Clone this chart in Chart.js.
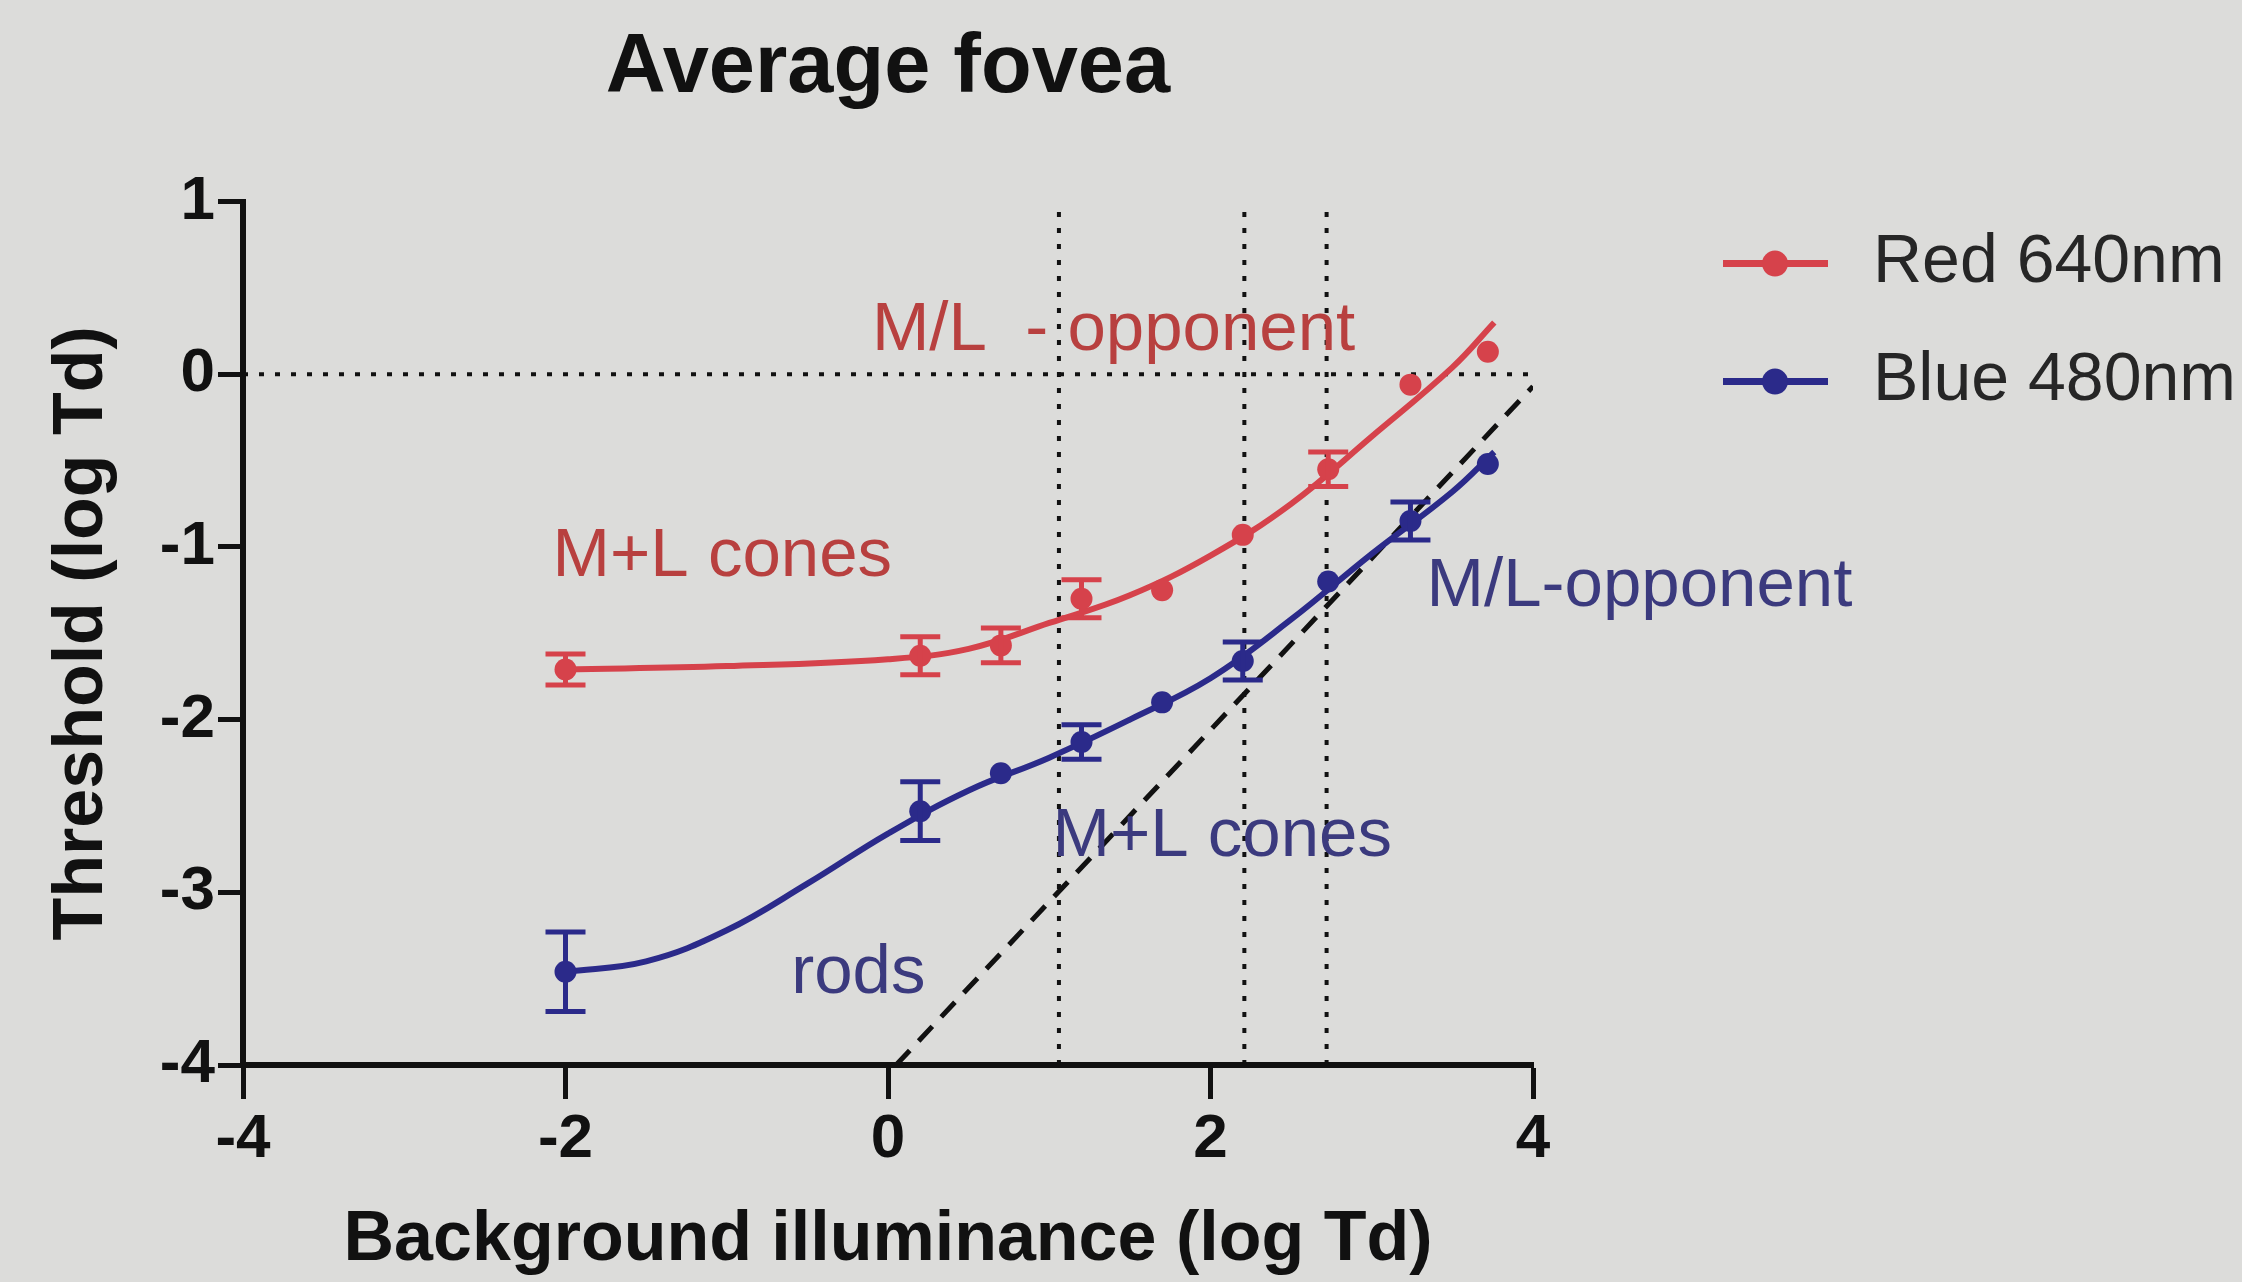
<!DOCTYPE html>
<html>
<head>
<meta charset="utf-8">
<title>Average fovea</title>
<script src="https://cdn.jsdelivr.net/npm/chart.js@4/dist/chart.umd.min.js"></script>
<style>
  html,body{margin:0;padding:0;background:#dcdcda;overflow:hidden;}
  #wrap{width:2242px;height:1282px;}
</style>
</head>
<body>
<div id="wrap"><canvas id="chart" width="2242" height="1282"></canvas></div>
<script>
/* ================= Data ================= */
const xValues    = [-2, 0.2, 0.7, 1.2, 1.7, 2.2, 2.73, 3.24, 3.72];
const redValues  = [-1.71, -1.63, -1.57, -1.30, -1.25, -0.93, -0.55, -0.06, 0.13];
const redErrors  = [0.09, 0.11, 0.10, 0.11, 0, 0, 0.10, 0, 0];
const blueValues = [-3.46, -2.53, -2.31, -2.13, -1.90, -1.66, -1.20, -0.85, -0.52];
const blueErrors = [0.23, 0.17, 0, 0.10, 0, 0.11, 0, 0.11, 0];

// fitted curves
const redFitX  = [-2, -1, 0, 0.5, 1, 1.5, 2, 2.5, 3, 3.5, 3.76];
const redFitY  = [-1.71, -1.69, -1.65, -1.59, -1.44, -1.28, -1.05, -0.75, -0.36, 0.04, 0.30];
const blueFitX = [-2, -1.5, -1, -0.5, 0, 0.5, 1, 1.5, 2, 2.5, 3, 3.5, 3.76];
const blueFitY = [-3.46, -3.40, -3.22, -2.95, -2.66, -2.41, -2.22, -2.0, -1.76, -1.42, -1.04, -0.68, -0.45];

// dashed rod line and dotted boundaries
const rodLineX   = [0.05, 4];
const rodLineY   = [-4, -0.07];
const boundaryX  = [1.06, 2.21, 2.72];
const boundaryY  = [-4, 0.95];
const zeroLineX  = [-4, 4];

const xTicks = [-4, -2, 0, 2, 4];
const yTicks = [-4, -3, -2, -1, 0, 1];

/* ================= Styling ================= */
const FONT = "'Liberation Sans', Arial, Helvetica, sans-serif";
const RED = '#d6424b';
const BLUE = '#2b2a8a';
const RED_TXT = '#b8403f';
const BLUE_TXT = '#3b3a7e';
const INK = '#111111';

const notes = [
  {text: 'M/L  - opponent', x: -0.1, y: 0.25, color: RED_TXT},
  {text: 'M+L cones',       x: -2.08, y: -1.06, color: RED_TXT},
  {text: 'M/L-opponent',    x: 3.34, y: -1.23, color: BLUE_TXT},
  {text: 'M+L cones',       x: 1.02, y: -2.68, color: BLUE_TXT},
  {text: 'rods',            x: -0.60, y: -3.47, color: BLUE_TXT}
];

function pts(xs, ys){ return xs.map((x,i)=>({x:x, y:ys[i]})); }

/* ================= Plugins ================= */
const errorBars = {
  id: 'errorBars',
  afterDatasetsDraw(chart){
    const {ctx, scales:{x, y}} = chart;
    chart.data.datasets.forEach(ds=>{
      if(!ds.errors) return;
      ctx.save();
      ctx.strokeStyle = ds.borderColor;
      ctx.lineWidth = 5;
      ds.data.forEach((p,i)=>{
        const e = ds.errors[i];
        if(!e) return;
        const px = x.getPixelForValue(p.x);
        const top = y.getPixelForValue(p.y + e);
        const bot = y.getPixelForValue(p.y - e);
        ctx.beginPath();
        ctx.moveTo(px, top); ctx.lineTo(px, bot);
        ctx.moveTo(px-20, top); ctx.lineTo(px+20, top);
        ctx.moveTo(px-20, bot); ctx.lineTo(px+20, bot);
        ctx.stroke();
      });
      ctx.restore();
    });
  }
};

const labelsPlugin = {
  id: 'notes',
  afterDraw(chart){
    const {ctx, scales:{x, y}} = chart;
    ctx.save();
    ctx.font = '69px ' + FONT;
    ctx.textBaseline = 'middle';
    ctx.textAlign = 'left';
    notes.forEach(n=>{
      ctx.fillStyle = n.color;
      ctx.fillText(n.text, x.getPixelForValue(n.x), y.getPixelForValue(n.y));
    });
    ctx.restore();
  }
};

// legend drawn to the right of the plot, line + dot like the original
const sideLegend = {
  id: 'sideLegend',
  afterDraw(chart){
    const {ctx, chartArea} = chart;
    const items = chart.data.datasets.filter(d=>d.legend);
    ctx.save();
    items.forEach((d,i)=>{
      const cy = chartArea.top + 62 + i*118;
      const x0 = chartArea.right + 190;
      ctx.strokeStyle = d.borderColor;
      ctx.fillStyle = d.borderColor;
      ctx.lineWidth = 7;
      ctx.beginPath(); ctx.moveTo(x0, cy); ctx.lineTo(x0+105, cy); ctx.stroke();
      ctx.beginPath(); ctx.arc(x0+52, cy, 13, 0, Math.PI*2); ctx.fill();
      ctx.fillStyle = '#262626';
      ctx.font = '68px ' + FONT;
      ctx.textBaseline = 'middle';
      ctx.fillText(d.legend, x0+150, cy);
    });
    ctx.restore();
  }
};

/* ================= Chart ================= */
const refLine = (data, dash, width) => ({
  data: data, showLine: true, borderColor: INK, borderWidth: width,
  borderDash: dash, pointRadius: 0, order: 3, fill: false
});

const datasets = [
  {label: 'Red 640nm', legend: 'Red 640nm', data: pts(xValues, redValues), errors: redErrors,
   borderColor: RED, backgroundColor: RED, pointRadius: 11, pointBorderWidth: 0, showLine: false, order: 0},
  {label: 'Blue 480nm', legend: 'Blue 480nm', data: pts(xValues, blueValues), errors: blueErrors,
   borderColor: BLUE, backgroundColor: BLUE, pointRadius: 11, pointBorderWidth: 0, showLine: false, order: 0},
  {label: 'Red fit', data: pts(redFitX, redFitY), showLine: true, borderColor: RED, borderWidth: 6,
   pointRadius: 0, tension: 0.4, order: 1},
  {label: 'Blue fit', data: pts(blueFitX, blueFitY), showLine: true, borderColor: BLUE, borderWidth: 6,
   pointRadius: 0, tension: 0.4, order: 1},
  Object.assign(refLine(pts(rodLineX, rodLineY), [20, 13], 5), {label: 'rods'}),
  Object.assign(refLine(zeroLineX.map(x=>({x:x, y:0})), [5, 11], 4), {label: 'zero'})
];
boundaryX.forEach(bx=>{
  datasets.push(Object.assign(refLine(boundaryY.map(v=>({x:bx, y:v})), [5, 11], 4), {label: 'b' + bx}));
});

const axisGrid = {display: true, drawOnChartArea: false, drawTicks: true, tickWidth: 5, tickColor: INK, color: INK};

const chart = new Chart(document.getElementById('chart'), {
  type: 'scatter',
  data: {datasets: datasets},
  options: {
    responsive: false,
    animation: false,
    devicePixelRatio: 1,
    layout: {padding: {left: 0, right: 709, top: 0, bottom: 0}},
    plugins: {
      legend: {display: false},
      tooltip: {enabled: false},
      title: {
        display: true, text: 'Average fovea', fullSize: false, color: INK,
        font: {family: FONT, size: 83, weight: 'bold', lineHeight: 1.2},
        padding: {top: 19, bottom: 83}
      }
    },
    scales: {
      x: {
        type: 'linear', min: -4, max: 4,
        afterBuildTicks: s => { s.ticks = xTicks.map(v=>({value: v})); },
        afterFit: s => { s.height = 217; },
        grid: Object.assign({tickLength: 34}, axisGrid),
        border: {display: true, width: 6, color: INK},
        ticks: {color: INK, padding: 4, maxRotation: 0, font: {family: FONT, size: 62, weight: 'bold'}},
        title: {display: true, text: 'Background illuminance (log Td)', color: INK,
                font: {family: FONT, size: 70, weight: 'bold', lineHeight: 1},
                padding: {top: 0, bottom: 6}}
      },
      y: {
        type: 'linear', min: -4, max: 1,
        afterBuildTicks: s => { s.ticks = yTicks.map(v=>({value: v})); },
        afterFit: s => { s.width = 243; },
        grid: Object.assign({tickLength: 25}, axisGrid),
        border: {display: true, width: 6, color: INK},
        ticks: {color: INK, padding: 3, font: {family: FONT, size: 62, weight: 'bold'}},
        title: {display: true, text: 'Threshold (log Td)', color: INK,
                font: {family: FONT, size: 70, weight: 'bold', lineHeight: 1},
                padding: {top: 48, bottom: 0}}
      }
    }
  },
  plugins: [errorBars, labelsPlugin, sideLegend]
});
</script>
</body>
</html>
